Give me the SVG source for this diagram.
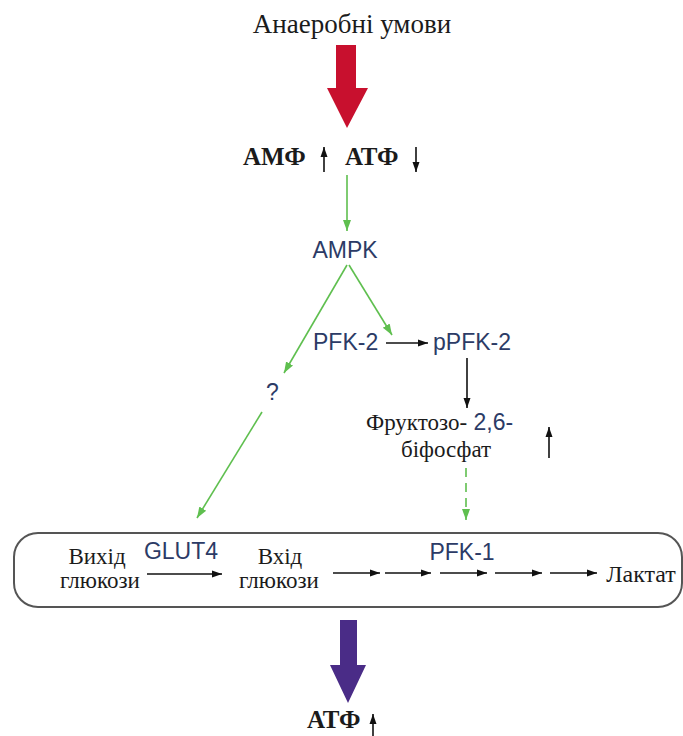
<svg xmlns="http://www.w3.org/2000/svg" width="683" height="736" viewBox="0 0 683 736">
  <style>
    .serif { font-family: "Liberation Serif", "Times New Roman", serif; fill: #1b1b1b; }
    .sans { font-family: "Liberation Sans", Arial, sans-serif; fill: #2c3b66; }
    .green { stroke: #5fbf4f; stroke-width: 1.6; fill: none; }
    .black { stroke: #111; stroke-width: 1.6; fill: none; }
  </style>
  <defs>
    <marker id="headGreen" markerUnits="userSpaceOnUse" markerWidth="12" markerHeight="12" refX="11" refY="5" orient="auto">
      <path d="M0,1 L11,5 L0,9 Z" fill="#5fbf4f"/>
    </marker>
    <marker id="headBlack" markerUnits="userSpaceOnUse" markerWidth="12" markerHeight="10" refX="10" refY="4" orient="auto">
      <path d="M0,0.5 L10,4 L0,7.5 Z" fill="#111"/>
    </marker>
  </defs>

  <!-- top condition -->
  <g id="anaerobic">
    <text class="serif" x="352" y="33" font-size="27" text-anchor="middle">Анаеробні умови</text>
  </g>

  <!-- nucleotide levels -->
  <g id="nucleotides">
    <text class="serif" x="243" y="165" font-size="25" font-weight="bold">АМФ</text>
    <text class="serif" x="345" y="165" font-size="25" font-weight="bold">АТФ</text>
  </g>

  <g id="ampk">
    <text class="sans" x="345" y="258" font-size="23" text-anchor="middle">AMPK</text>
  </g>

  <g id="pfk2">
    <text class="sans" x="313" y="350" font-size="23">PFK-2</text>
  </g>

  <g id="ppfk2">
    <text class="sans" x="433" y="350" font-size="23">pPFK-2</text>
  </g>

  <g id="unknown">
    <text class="sans" x="266" y="400" font-size="23">?</text>
  </g>

  <g id="f26bp">
    <text x="366" y="430" font-size="23"><tspan class="serif">Фруктозо-</tspan><tspan class="sans"> 2,6-</tspan></text>
    <text class="serif" x="401" y="457" font-size="23">біфосфат</text>
  </g>

  <!-- glycolysis compartment -->
  <g id="cell">
    <rect x="14" y="533" width="668" height="74" rx="24" ry="24" fill="none" stroke="#555" stroke-width="2"/>
    <text class="serif" x="97" y="564" font-size="23" text-anchor="middle">Вихід</text>
    <text class="serif" x="100" y="588" font-size="23" text-anchor="middle">глюкози</text>
    <text class="sans" x="181" y="559" font-size="23" text-anchor="middle">GLUT4</text>
    <text class="serif" x="280" y="564" font-size="23" text-anchor="middle">Вхід</text>
    <text class="serif" x="279" y="588" font-size="23" text-anchor="middle">глюкози</text>
    <text class="sans" x="462" y="560" font-size="23" text-anchor="middle">PFK-1</text>
    <text class="serif" x="641" y="582" font-size="24" text-anchor="middle">Лактат</text>
  </g>

  <g id="atp-out">
    <text class="serif" x="307" y="728" font-size="25" font-weight="bold">АТФ</text>
  </g>

  <g id="connectors">
    <!-- big block arrows -->
    <path d="M336,45 H356 V88 H368 L347,128 L327,88 H336 Z" fill="#c8102e"/>
    <path d="M340,620 H357 V665 H366 L348,703 L330,665 H340 Z" fill="#4a2c87"/>

    <!-- level indicators -->
    <line class="black" x1="324" y1="172" x2="324" y2="147" marker-end="url(#headBlack)"/>
    <line class="black" x1="416" y1="147" x2="416" y2="172" marker-end="url(#headBlack)"/>
    <line class="black" x1="549" y1="458" x2="549" y2="427" stroke-width="2" marker-end="url(#headBlack)"/>
    <line class="black" x1="373" y1="736" x2="373" y2="714" marker-end="url(#headBlack)"/>

    <!-- signalling -->
    <line class="green" x1="347" y1="175" x2="347" y2="231" marker-end="url(#headGreen)"/>
    <line class="green" x1="349" y1="265" x2="392" y2="335" marker-end="url(#headGreen)"/>
    <line class="green" x1="347" y1="265" x2="284" y2="373" marker-end="url(#headGreen)"/>
    <line class="green" x1="262" y1="412" x2="197" y2="518" marker-end="url(#headGreen)"/>
    <line class="green" x1="466" y1="468" x2="466" y2="520" stroke-dasharray="9,6" marker-end="url(#headGreen)"/>

    <!-- PFK-2 phosphorylation -->
    <line class="black" x1="386" y1="343" x2="428" y2="343" marker-end="url(#headBlack)"/>
    <line class="black" x1="467" y1="358" x2="467" y2="408" marker-end="url(#headBlack)"/>

    <!-- glycolytic steps -->
    <line class="black" x1="147" y1="574" x2="222" y2="574" marker-end="url(#headBlack)"/>
    <line class="black" x1="333" y1="573" x2="380" y2="573" marker-end="url(#headBlack)"/>
    <line class="black" x1="385" y1="573" x2="431" y2="573" marker-end="url(#headBlack)"/>
    <line class="black" x1="440" y1="573" x2="487" y2="573" marker-end="url(#headBlack)"/>
    <line class="black" x1="495" y1="573" x2="542" y2="573" marker-end="url(#headBlack)"/>
    <line class="black" x1="550" y1="573" x2="597" y2="573" marker-end="url(#headBlack)"/>
  </g>
</svg>
